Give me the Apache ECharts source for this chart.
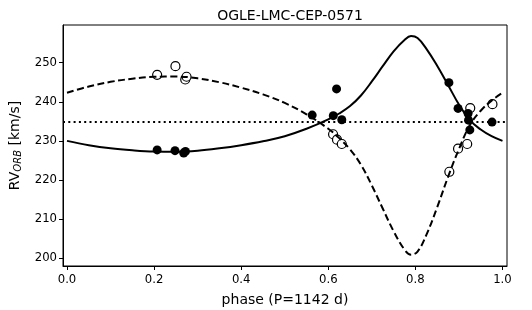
<!DOCTYPE html>
<html>
<head>
<meta charset="utf-8">
<script src="https://cdn.jsdelivr.net/npm/echarts@6/dist/echarts.min.js"></script>
<style>
html,body{margin:0;padding:0;background:#fff;}
#chart{width:532px;height:310px;}
</style>
</head>
<body>
<div id="chart"></div>
<script>
// ---- data ----
const titleText = 'OGLE-LMC-CEP-0571';
const xTicks = [0.0, 0.2, 0.4, 0.6, 0.8, 1.0];
const yTicks = [200, 210, 220, 230, 240, 250];
const gammaVel = 234.8;

// orbital model curves
const fitPhase     = [0, 0.05, 0.1, 0.15, 0.2, 0.25, 0.3, 0.35, 0.4, 0.45, 0.5, 0.55, 0.6, 0.625, 0.65, 0.675, 0.7, 0.725, 0.75, 0.775, 0.79, 0.805, 0.825, 0.85, 0.875, 0.9, 0.925, 0.95, 0.975, 1.0];
const fitPrimary   = [230.0, 228.9, 228.1, 227.6, 227.3, 227.25, 227.5, 228.1, 228.9, 229.9, 231.2, 233.1, 235.5, 237.0, 238.9, 241.6, 245.2, 249.1, 252.9, 255.8, 256.8, 256.3, 253.6, 249.2, 244.3, 239.3, 235.3, 232.9, 231.2, 230.0];
const fitSecondary = [242.3, 243.9, 245.1, 245.9, 246.4, 246.45, 246.0, 245.0, 243.6, 241.9, 239.7, 236.8, 233.1, 230.7, 227.8, 223.9, 218.6, 212.7, 206.9, 202.2, 200.9, 201.7, 205.9, 213.0, 220.8, 227.9, 234.0, 237.7, 240.3, 242.3];

// observed points
const primPhase = [0.207, 0.248, 0.268, 0.272, 0.563, 0.6115, 0.619, 0.631, 0.877, 0.898, 0.921, 0.922, 0.925, 0.976];
const primRV    = [227.7, 227.5, 226.9, 227.3, 236.6, 236.45, 243.3, 235.4, 244.9, 238.3, 237.0, 235.3, 232.8, 234.8];
const secPhase  = [0.207, 0.249, 0.2715, 0.2745, 0.611, 0.620, 0.631, 0.878, 0.898, 0.919, 0.926, 0.977];
const secRV     = [246.9, 249.1, 245.7, 246.4, 231.7, 230.3, 229.2, 222.1, 228.0, 229.2, 238.4, 239.4];

const zip = (a, b) => a.map((v, i) => [v, b[i]]);

const chart = echarts.init(document.getElementById('chart'), null, {renderer: 'canvas'});
const FONT = 'DejaVu Sans';
chart.setOption({
  animation: false,
  backgroundColor: '#fff',
  textStyle: {fontFamily: FONT, color: '#000'},
  title: {
    text: titleText, left: 285, top: 4, textAlign: 'center',
    textStyle: {fontFamily: FONT, fontSize: 14, fontWeight: 'normal', color: '#000'}
  },
  grid: {left: 63, top: 25, width: 444, height: 241, containLabel: false, outerBoundsMode: 'none',
         show: true, borderColor: '#000', borderWidth: 1, backgroundColor: 'transparent'},
  xAxis: {
    type: 'value', min: -0.0092, max: 1.0104,
    name: 'phase (P=1142 d)', nameLocation: 'middle', nameGap: 27,
    nameTextStyle: {fontFamily: FONT, fontSize: 14, color: '#000'},
    axisLine: {show: true, onZero: false, lineStyle: {color: '#000', width: 1}},
    axisTick: {show: true, length: 4, inside: false, customValues: xTicks, lineStyle: {color: '#000'}},
    axisLabel: {customValues: xTicks, fontSize: 11.7, color: '#000', margin: 8, formatter: v => v.toFixed(1)},
    splitLine: {show: false}
  },
  yAxis: {
    type: 'value', min: 198.0, max: 259.64,
    name: '{a|RV}{s|ORB}{a| [km/s]}', nameLocation: 'middle', nameGap: 37, nameRotate: 90,
    nameTextStyle: {
      fontFamily: FONT, color: '#000',
      rich: {
        a: {fontFamily: FONT, fontSize: 14, color: '#000', lineHeight: 18},
        s: {fontFamily: FONT, fontSize: 10, fontStyle: 'italic', color: '#000', lineHeight: 18, padding: [7, 0, 0, 0]}
      }
    },
    axisLine: {show: true, onZero: false, lineStyle: {color: '#000', width: 1}},
    axisTick: {show: true, length: 4, inside: false, customValues: yTicks, lineStyle: {color: '#000'}},
    axisLabel: {customValues: yTicks, fontSize: 11.7, color: '#000', margin: 6},
    splitLine: {show: false}
  },
  series: [
    {
      type: 'scatter', name: 'sec obs', data: zip(secPhase, secRV), z: 2,
      symbol: 'circle', symbolSize: 9,
      itemStyle: {color: '#fff', borderColor: '#000', borderWidth: 1.2, opacity: 1}
    },
    {
      type: 'line', name: 'secondary', data: zip(fitPhase, fitSecondary), z: 3,
      showSymbol: false, smooth: 0.4,
      lineStyle: {color: '#000', width: 2, type: [7, 3.5]}
    },
    {
      type: 'line', name: 'primary', data: zip(fitPhase, fitPrimary), z: 3,
      showSymbol: false, smooth: 0.4,
      lineStyle: {color: '#000', width: 2},
      markLine: {
        silent: true, symbol: ['none', 'none'], label: {show: false},
        lineStyle: {color: '#000', width: 2, type: [2, 3.3]},
        data: [{yAxis: gammaVel}]
      }
    },
    {
      type: 'scatter', name: 'prim obs', data: zip(primPhase, primRV), z: 4,
      symbol: 'circle', symbolSize: 9,
      itemStyle: {color: '#000', borderColor: '#000', borderWidth: 0, opacity: 1}
    }
  ]
});
</script>
</body>
</html>
